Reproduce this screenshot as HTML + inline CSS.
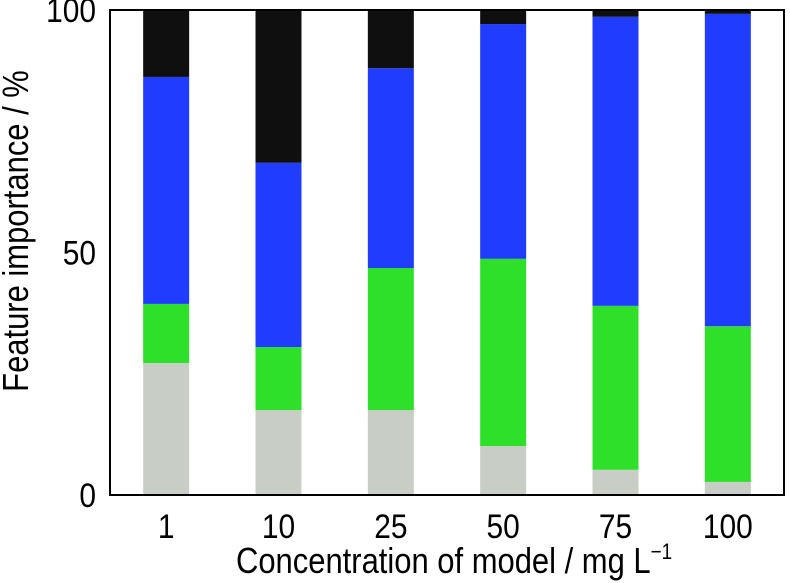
<!DOCTYPE html>
<html><head><meta charset="utf-8"><style>
html,body{margin:0;padding:0;background:#fff;}
svg{display:block;font-family:"Liberation Sans",Arial,sans-serif;}
</style></head><body>
<svg id="chart" width="790" height="583" viewBox="0 0 790 583"></svg>
<script>
const categories = ["1","10","25","50","75","100"];
const greySeries = [27.2, 17.5, 17.5, 10.1, 5.2, 2.7];
const greenSeries = [12.2, 13.0, 29.3, 38.6, 33.8, 32.1];
const blueSeries = [46.8, 38.0, 41.2, 48.4, 59.6, 64.4];
const blackSeries = [13.8, 31.5, 12.0, 2.9, 1.4, 0.8];
const yTicks = [0, 50, 100];

const svg = document.getElementById('chart');
const NS = 'http://www.w3.org/2000/svg';
const L = 110, R = 784, T = 10, B = 495;
const y = v => B - (v / 100) * (B - T);
const step = (R - L) / categories.length;
const x = i => L + step * (i + 0.5);
const bw = 46;
function mk(tag, attrs) { const e = document.createElementNS(NS, tag); for (const k in attrs) e.setAttribute(k, attrs[k]); svg.appendChild(e); return e; }

const series = [[greySeries, '#c8cdc6', 'grey'], [greenSeries, '#2fe02b', 'green'], [blueSeries, '#1f3cff', 'blue'], [blackSeries, '#0f0f0f', 'black']];
categories.forEach((c, i) => {
  let base = 0;
  series.forEach(([arr, col, nm]) => {
    const v = arr[i];
    const top = Math.min(base + v, 100);
    const r = mk('rect', { x: x(i) - bw / 2, y: y(top), width: bw, height: y(base) - y(top), fill: col });
    
    
    base += v;
  });
  const lb = mk('text', { x: 0, y: 0, 'text-anchor': 'middle', 'font-size': 34, fill: '#000', transform: 'translate(' + x(i) + ',538) scale(0.88,1)' });
  lb.textContent = c;
  
  
});
yTicks.forEach(v => {
  const lb = mk('text', { x: 0, y: 0, 'text-anchor': 'end', 'font-size': 34, fill: '#000', transform: 'translate(' + (L - 14) + ',' + (y(v) + 12) + ') scale(0.88,1)' });
  lb.textContent = v;
  
  
});
const frame = mk('rect', { x: L, y: T, width: R - L, height: B - T, fill: 'none', stroke: '#000', 'stroke-width': 2 });


const xt = mk('text', { x: 0, y: 0, 'font-size': 36, fill: '#000', transform: 'translate(236,573) scale(0.86,1)' });
xt.innerHTML = 'Concentration of model / mg L<tspan dy="-14" font-size="22">−1</tspan>';


const yt = mk('text', { x: 0, y: 0, 'text-anchor': 'middle', 'font-size': 36, fill: '#000', transform: 'translate(28,231) rotate(-90) scale(0.86,1)' });
yt.textContent = 'Feature importance / %';


</script>
</body></html>
